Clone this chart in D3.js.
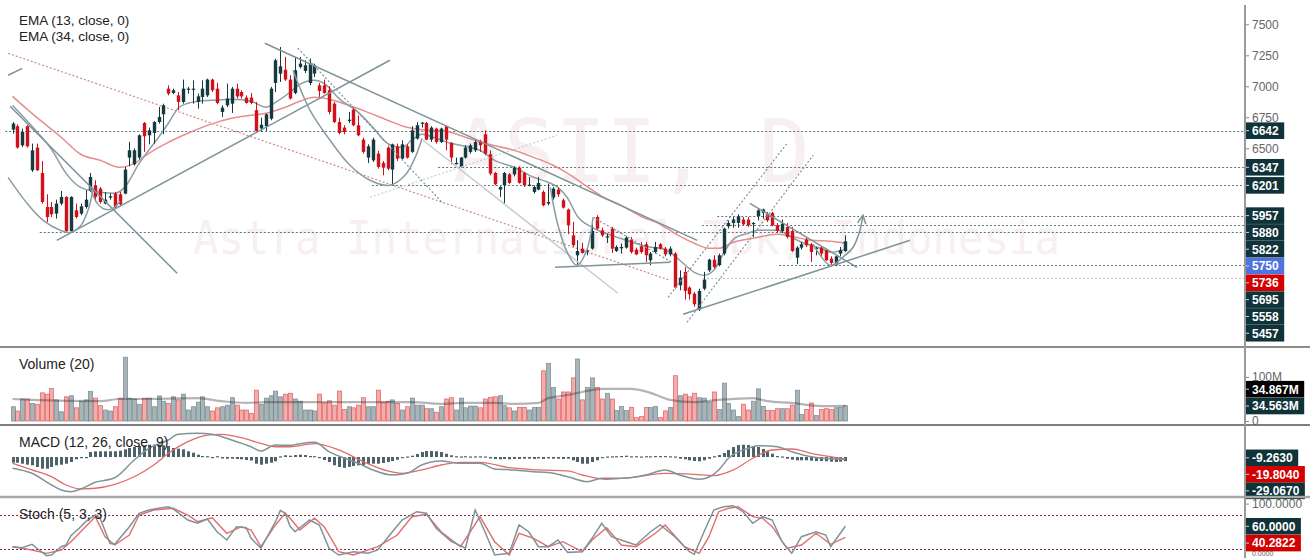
<!DOCTYPE html>
<html>
<head>
<meta charset="utf-8">
<script src="https://cdn.jsdelivr.net/npm/d3@7"></script>
<style>
    body { margin: 0; background: #fff; }
    svg { display: block; }
    text { font-family: "Liberation Sans", Arial, sans-serif; }
</style>
</head>
<body>
<svg id="chart" width="1310" height="558"></svg>
<script>
// ---- candles (daily OHLC) ----
const candleOpen = [
    6651,6678,6524,6678,6323,6506,6301,6027,6027,5973,
    6054,6108,5833,6000,5973,6027,6161,6202,6175,6054,
    6102,6135,6129,6135,6425,6371,6425,6704,6605,6624,
    6712,6774,6981,6946,6927,6874,6973,6973,6874,6914,
    6927,7054,6981,6793,6847,6860,6981,6954,6909,6909,
    6807,6660,6678,6739,7027,7102,7134,7054,6946,7156,
    7124,7027,7102,7008,7008,6968,6860,6712,6667,6720,
    6812,6686,6570,6425,6403,6457,6382,6506,6328,6516,
    6417,6516,6471,6578,6699,6704,6570,6659,6551,6678,
    6543,6371,6350,6425,6471,6484,6560,6613,6452,6301,
    6167,6202,6290,6290,6344,6301,6197,6148,6167,6148,
    6054,6102,6167,6081,6006,5798,5637,5691,5667,5691,
    5946,5839,5780,5852,5672,5694,5699,5764,5683,5710,
    5726,5597,5664,5726,5691,5645,5651,5395,5503,5377,
    5328,5199,5368,5516,5602,5557,5651,5871,5898,5898,
    5925,5925,5893,5952,5979,5968,5979,5879,5833,5866,
    5833,5618,5699,5764,5726,5689,5699,5678,5610,5557,
    5651,5672];
const candleHigh = [
    6712,6694,6659,6686,6538,6538,6398,6129,6067,6086,
    6156,6113,6113,6054,6054,6161,6301,6242,6188,6148,
    6135,6148,6148,6350,6551,6500,6613,6712,6667,6720,
    6833,6860,7008,6981,6954,7054,6995,7048,6941,7048,
    7062,7062,7027,6847,7022,6995,7022,6968,6927,6946,
    6874,6747,6780,6995,7223,7317,7237,7089,7237,7237,
    7210,7223,7183,7027,7054,7000,6874,6747,6686,6793,
    6828,6766,6586,6532,6586,6479,6398,6516,6538,6538,
    6565,6532,6678,6712,6712,6712,6678,6667,6667,6686,
    6551,6425,6430,6524,6538,6565,6570,6645,6484,6309,
    6194,6309,6301,6355,6355,6309,6269,6202,6269,6161,
    6215,6188,6183,6094,6014,5906,5758,5737,5691,5906,
    5960,5860,5812,5866,5718,5731,5790,5785,5699,5745,
    5745,5664,5745,5737,5704,5710,5664,5516,5543,5387,
    5342,5368,5503,5610,5637,5651,5860,5919,5946,5968,
    5946,5946,5906,6014,6014,5987,5987,5898,5925,5898,
    5866,5710,5745,5785,5737,5704,5710,5691,5629,5637,
    5704,5798];
const candleLow = [
    6618,6497,6511,6506,6309,6317,6054,5906,5946,5933,
    6040,5822,5822,5933,5960,6014,6148,6067,6054,6048,
    6086,6014,6040,6129,6355,6360,6409,6471,6532,6538,
    6699,6613,6927,6936,6807,6860,6941,6860,6820,6860,
    6914,6954,6855,6753,6833,6785,6901,6901,6860,6855,
    6632,6632,6640,6726,6954,7035,7043,6893,6936,7143,
    7108,7008,7075,6914,6941,6774,6704,6613,6613,6704,
    6678,6597,6457,6382,6390,6336,6282,6323,6201,6398,
    6409,6417,6462,6570,6667,6565,6551,6538,6543,6484,
    6371,6371,6344,6417,6457,6471,6471,6444,6282,6202,
    6108,6054,6210,6274,6215,6188,6194,6135,6161,6032,
    6040,6086,6108,6014,5807,5704,5558,5651,5637,5683,
    5844,5785,5737,5656,5664,5651,5691,5651,5637,5651,
    5583,5557,5651,5683,5629,5629,5368,5355,5280,5280,
    5221,5188,5355,5503,5530,5549,5637,5852,5860,5860,
    5879,5866,5785,5919,5933,5906,5871,5817,5817,5772,
    5664,5565,5683,5704,5583,5637,5629,5592,5557,5549,
    5629,5664];
const candleClose = [
    6699,6506,6632,6516,6484,6323,6067,5946,5968,6054,
    6108,5833,6108,5946,6032,6086,6269,6108,6067,6086,
    6113,6027,6048,6328,6484,6484,6605,6597,6645,6712,
    6753,6847,6941,6968,6874,6981,6981,6981,6919,6981,
    7054,6968,6866,6828,6901,6981,6919,6919,6866,6866,
    6640,6690,6774,6981,7210,7161,7054,6901,7129,7183,
    7169,7183,7169,6962,6946,6793,6712,6624,6632,6731,
    6686,6605,6471,6516,6570,6350,6344,6336,6532,6417,
    6532,6425,6645,6686,6707,6570,6667,6551,6659,6570,
    6425,6382,6425,6506,6524,6551,6524,6457,6296,6210,
    6188,6301,6221,6344,6221,6202,6207,6188,6221,6040,
    6067,6175,6129,6022,5879,5718,5672,5656,5678,5833,
    5852,5798,5790,5691,5704,5704,5780,5664,5645,5664,
    5637,5651,5704,5691,5645,5691,5377,5457,5350,5323,
    5242,5350,5441,5602,5543,5637,5852,5898,5925,5952,
    5887,5879,5898,6000,6006,5919,5879,5833,5893,5785,
    5672,5699,5726,5718,5664,5696,5651,5597,5575,5629,
    5678,5750];

// volume in millions
const volumes = [
    32.5,22.7,50,50,40,38,64,61,74,48,
    21,55,57.5,30,45,48,67,52,35,25,
    22.7,32.5,52,145,52,50,38,52,52,32.5,
    57,45,40,55,48,61,25,32.5,43,55,
    32.5,22.7,30,32.5,36,53,36,25,25,17.4,
    70,38,52,57.5,68,55,61,63,50,45,
    25,25,23,61,41,46,36,68,26,32.5,
    30,36,53,32.5,32.5,70,43,45,48,40,
    25,32.5,52,36,36,28,28,20,32.5,50,
    53,25,52,30,34,34,30,50,54,55,
    57.5,35,30,23,31,31,25,31,31,114,
    131,76,50,66,66,98,141,48,76,98,
    76,50,63,50,24,33,24,31,7.6,10,
    31,31,33,7.6,23,31,103,57.5,61,55,
    63,53,52,43,66,26,86,40,25,10,
    38,25,45,73,33,24,24,28,28,28,
    36,70,15,26,41,12.5,26,28,26,30,
    31,34.867];
const volMaIdx = [0,4,18,22,26,38,43,48,52,57,69,82,88,93,99,103,108,110,114,117,121,127,131,135,140,145,152,155,160,166,171];
const volMaVals = [50,48,45,50,50,52,45,41,43,43,43,43,39,41,41,39,41,52,59,66,73,73,64,48,43,48,52,45,41,34,34.563];

// EMA lines, sampled along the picture
const ema13Idx = [0,4,8,11,14,18,21,23,26,30,32,34,36,38,41,45,49,52,54,57,59,62,64,67,71,74,77,80,82,84,87,90,93,96,99,103,107,110,112,114,116,119,123,126,130,134,137,140,142,144,146,148,151,153,157,160,162,166,168,171];
const ema13Vals = [6847,6677,6492,6298,6185,6145,6137,6185,6379,6589,6702,6823,6863,6879,6887,6895,6879,6831,6871,6952,7016,7048,7024,6903,6790,6669,6540,6508,6565,6613,6581,6540,6516,6484,6403,6347,6266,6226,6185,6097,5952,5863,5798,5758,5710,5685,5597,5500,5476,5516,5653,5766,5814,5839,5839,5782,5742,5694,5661,5685];
const ema34Idx = [0,4,10,14,18,22,25,28,32,36,40,45,49,52,56,59,62,65,69,73,77,81,85,89,93,97,103,107,111,114,117,121,125,129,133,136,140,143,145,148,152,157,160,164,168,171];
const ema34Vals = [6919,6782,6589,6452,6403,6347,6379,6460,6548,6621,6685,6742,6766,6782,6831,6879,6911,6895,6847,6790,6726,6669,6645,6637,6589,6540,6484,6427,6363,6298,6218,6113,6040,5952,5887,5814,5734,5694,5694,5742,5774,5806,5790,5758,5750,5734];

// MACD (12, 26, close, 9)
const macdIdx = [0,4,8,10,12,14,17,21,25,28,32,34,38,41,45,49,51,54,57,59,62,65,71,74,78,81,84,88,92,96,99,103,107,111,114,118,121,125,130,134,137,141,145,147,151,153,157,160,164,171];
const macdVals = [-125,-181,-311,-366,-385,-355,-281,-230,-33,96,189,252,263,252,189,114,67,133,130,148,163,59,-70,-144,-200,-181,-89,-44,-70,-70,-133,-144,-163,-181,-219,-274,-236,-236,-200,-144,-200,-248,-144,-14,96,125,114,59,3,-29.067];
const signalIdx = [0,4,8,11,14,17,21,25,29,32,36,40,43,47,51,54,57,62,67,72,77,80,84,88,92,96,102,108,114,117,122,127,134,140,144,148,152,156,160,164,171];
const signalVals = [-70,-144,-219,-311,-355,-347,-303,-219,-89,41,170,244,252,214,152,114,114,148,78,-52,-155,-181,-144,-89,-59,-59,-119,-144,-155,-200,-248,-230,-181,-192,-208,-144,-14,78,89,41,-19.804];
const histVals = [
    -12.7,-12.7,-14.9,-17.1,-18.4,-22.2,-26,-26,-22.2,-18.4,-17.1,-14.9,-11.1,-5.1,-2.2,-1.1,
    11.1,12.7,12.7,12.7,12.7,12.7,14,17.1,20,22.2,24.4,26,27.3,27.3,27.3,26,24.4,20,18.4,17.1,12.7,9.5,5.1,2.2,0.7,-1.1,0.7,
    -3.3,-3.8,-3.8,-4.4,-5.1,-6.7,-7.8,-14.9,-17.1,-14.9,-12.7,-9.5,
    1.5,3.8,2.9,4.4,5.1,4.4,2.2,0.7,
    -2.2,-6.7,-11.1,-18.4,-22.2,-24,-22,-20,-18.4,-17.8,-15.5,-14.9,-14.9,-13.3,-11.1,-8.9,-6,-2.2,-0.7,
    2.9,6.7,11.1,13.3,13.3,12.7,11.1,7.3,3.8,0.7,
    -0.7,0.7,-0.7,0.4,0.4,-0.7,
    -3.3,-4.4,-5.1,-4.4,-5.1,-4.4,-4.4,-3.8,-3.8,-4.4,-3.3,-4.4,-3.3,-3.8,-3.8,-4.4,-3.8,
    -7.3,-11.1,-14.9,-14.9,-11.1,-7.3,-2.2,-0.7,
    1.6,0.7,2.2,2.9,1.6,0.7,1.1,0.7,1.6,2.2,2.2,2.2,1.6,
    -0.7,-3.8,-5.1,-7.3,-8.9,-9.5,-7.3,-3.8,0.7,
    4.4,8.9,15.5,22.2,26.6,27.3,26.6,24.4,22.2,17.8,12.7,7.3,2.2,
    -0.7,-3.8,-6,-7.3,-7.3,-7.3,-8.2,-8.9,-8.9,-9.5,-10.4,-11.1,-10.4,-9.263];

// Stoch (5, 3, 3)
const stochKIdx = [0,2,4,5,7,8,10,11,12,14,15,17,18,20,21,24,26,28,30,32,33,36,38,40,42,44,46,48,49,51,54,55,56,57,58,61,63,65,67,70,73,75,78,80,83,85,87,90,93,95,97,99,102,104,106,108,110,112,114,117,119,121,123,126,128,131,133,136,139,140,142,144,146,148,150,152,154,156,158,160,162,165,167,168,171];
const stochKVals = [24,22.2,28.2,21.2,8.1,9.3,24,27,43.4,59.3,68.1,79.9,74.1,30,28.2,59.3,82.9,88.7,91.7,94.5,90.5,71.1,65.3,72.8,50.4,35.8,59.3,57.5,38.8,21.2,68.1,88,82.9,60,50.4,71.1,62.3,21.2,9.3,15.2,12.3,18.2,50.4,71.1,85.7,82.9,56.4,34,21.2,88.7,50.4,9.3,12.3,62.3,50.4,24,24,35.8,14,15.2,38.8,65.3,41.6,32.8,27,50.4,62.3,41.6,15.2,10.6,50.4,88.7,94.5,96.3,85.7,65.3,76.9,71.1,32.8,12.3,41.6,50.4,44.6,24,60];
const stochDIdx = [0,4,7,10,12,15,17,19,21,24,26,29,33,36,38,41,44,47,49,51,54,56,57,59,62,64,67,70,75,79,82,85,88,92,96,99,102,104,107,110,113,117,119,122,125,128,132,134,138,141,143,145,147,149,152,154,156,159,162,165,168,171];
const stochDVals = [24,18.2,12.3,18.2,32.8,59.3,76.9,41.6,27,44.6,79.9,88.7,91.7,79.9,68.1,75.1,47.6,59.3,53.4,24,62.3,82.9,74,53.4,74.1,59.3,15.2,9.3,24,44.6,76.9,81.1,50.4,24,76.9,32.8,9.3,47.6,38.8,24,32.8,15.2,35.8,57.5,27,24,47.6,62.3,24,12.3,41.6,85.7,91.7,94.5,76.9,74.1,59.3,21.2,27,47.6,28.2,40.2822];

// axis ticks and price tags
const priceTicks = [7500, 7250, 7000, 6750, 6500, 6250, 6000, 5750, 5500, 5250, 5000];
const priceTags = [6642, 6347, 6201, 5957, 5880, 5822, 5750, 5736, 5695, 5558, 5457];
const priceTagKinds = ['dark','dark','dark','dark','dark','dark','blue','red','dark','dark','dark'];
const levelPrices = [6642, 6347, 6201, 5957, 5880, 5822, 5558, 5457];
const levelStartIdx = [-1.5, 87.4, 73.8, 144.7, 141.6, 5.6, 157.4, 141.8];
const volTicks = [100, 0];
const volTags = [34.867, 34.563];
const volTagKinds = ['black', 'dark'];
const macdTags = [-9.263, -19.804, -29.067];
const macdTagKinds = ['dark', 'red', 'dark'];
const stochTicks = [100, 0];
const stochTags = [60, 40.2822];
const stochTagKinds = ['dark', 'red'];

// drawings on the price pane: [idx1, price1, idx2, price2]
const trendLines = [
    [-0.9, 7089, 2, 7145],
    [-0.5, 6839, 33.8, 5492],
    [9.1, 5758, 77.5, 7210],
    [51.8, 7347, 140.6, 5758],
    [137.7, 5161, 184.3, 5758],
    [151.4, 6056, 173.4, 5540],
    [111.4, 5540, 135, 5581]
];
const lightLines = [[84.3, 6565, 124.3, 5331]];
const dottedLines = [
    [58.6, 7307, 88.4, 6056],
    [119.2, 5944, 135.4, 5581],
    [134.6, 5298, 159.2, 6548],
    [138.5, 5097, 164.4, 6444]
];
const lightDottedLines = [[73.4, 6105, 111.8, 6605]];
const redDottedLines = [[-0.9, 7266, 135, 5435]];
const arcs = [
    [[-0.9,6266],[3,6056],[6.3,5919],[9.8,5839],[11.8,5822],[13.9,5871],[15.5,6000],[16.5,6161]],
    [[15.9,6185],[17.4,6056],[19,6008],[20.6,6016],[22.1,6073]],
    [[57.6,7129],[61.1,6806],[65.2,6565],[69.3,6363],[73.4,6242],[77.5,6202],[80.6,6282],[82.6,6419],[84.1,6581]],
    [[110.4,6185],[112,5879],[113.9,5661],[115.9,5556],[117.9,5677],[119.2,5944]],
    [[164.4,5726],[167.9,5557],[170.5,5623]]
];
const arrowPath = [[170.5,5623],[172.6,5702],[174,5839],[174.6,5952]];

function drawChart() {
    const svg = d3.select('#chart');
    const axisX = 1245;
    const tagColor = { dark: '#0f3339', blue: '#4f73e0', red: '#d40000', black: '#000000' };
    const upColor = '#173a41';
    const downColor = '#d0101b';

    // scales
    const x = d3.scaleLinear().domain([0, 171]).range([12.5, 845.3]);
    const y = d3.scaleLinear().domain([6500, 7500]).range([148.3, 24.3]);
    const yVol = d3.scaleLinear().domain([0, 100]).range([421, 377]);
    const yMacd = d3.scaleLinear().domain([0, 100]).range([457, 448]);
    const yHist = d3.scaleLinear().domain([0, 10]).range([457, 452.5]);
    const yStoch = d3.scaleLinear().domain([0, 100]).range([560.3, 503.6]);

    const panes = { price: [0, 347], vol: [347, 425], macd: [425, 497], stoch: [497, 558] };
    const defs = svg.append('defs');
    Object.entries(panes).forEach(([k, [t, b]]) => {
        defs.append('clipPath').attr('id', 'clip-' + k)
            .append('rect').attr('x', 0).attr('y', t).attr('width', axisX).attr('height', b - t);
    });
    defs.append('marker')
        .attr('id', 'arrowHead')
        .attr('viewBox', '0 0 10 10')
        .attr('refX', 8).attr('refY', 5)
        .attr('markerWidth', 7).attr('markerHeight', 7)
        .attr('orient', 'auto')
        .append('path')
        .attr('d', 'M1,1 L9,5 L1,9')
        .attr('fill', 'none')
        .attr('stroke', '#7f9398')
        .attr('stroke-width', 1.5);

    // ---- price pane ----
    const gP = svg.append('g').attr('clip-path', 'url(#clip-price)');

    // watermark
    gP.append('text')
        .text('ASII, D')
        .attr('x', 453).attr('y', 182)
        .attr('textLength', 357).attr('lengthAdjust', 'spacingAndGlyphs')
        .style('font-family', '"DejaVu Sans Mono", monospace')
        .style('font-size', '88px')
        .attr('fill', '#f7eff2');
    gP.append('text')
        .text('Astra International Tbk, Indonesia')
        .attr('x', 193).attr('y', 254)
        .attr('textLength', 867).attr('lengthAdjust', 'spacingAndGlyphs')
        .style('font-family', '"DejaVu Sans Mono", monospace')
        .style('font-size', '46px')
        .attr('fill', '#f7eff2');

    // dotted price levels
    levelPrices.forEach((p, k) => {
        gP.append('line')
            .attr('x1', x(levelStartIdx[k])).attr('x2', axisX)
            .attr('y1', Math.round(y(p)) + 0.5).attr('y2', Math.round(y(p)) + 0.5)
            .attr('stroke', p === 5457 ? '#b9c3c6' : '#5d767c')
            .attr('stroke-width', 1)
            .attr('stroke-dasharray', '2,2');
    });

    const seg = (arr, color, width, dash) => {
        arr.forEach(d => {
            gP.append('line')
                .attr('x1', x(d[0])).attr('y1', y(d[1]))
                .attr('x2', x(d[2])).attr('y2', y(d[3]))
                .attr('stroke', color)
                .attr('stroke-width', width)
                .attr('stroke-dasharray', dash || null);
        });
    };
    seg(redDottedLines, '#c98b8b', 1.2, '2,2');

    // EMA lines
    const emaLine = d3.line().x(d => x(d[0])).y(d => y(d[1])).curve(d3.curveMonotoneX);
    gP.append('path')
        .attr('d', emaLine(ema34Idx.map((d, k) => [d, ema34Vals[k]])))
        .attr('fill', 'none').attr('stroke', '#e88d8d').attr('stroke-width', 1.5);
    gP.append('path')
        .attr('d', emaLine(ema13Idx.map((d, k) => [d, ema13Vals[k]])))
        .attr('fill', 'none').attr('stroke', '#8b9fa4').attr('stroke-width', 1.5);

    // candles
    const candles = gP.selectAll('.candle')
        .data(candleOpen.map((o, k) => ({ i: k, o: o, h: candleHigh[k], l: candleLow[k], c: candleClose[k] })))
        .enter().append('g').attr('class', 'candle');
    candles.append('line')
        .attr('x1', d => Math.round(x(d.i)) + 0.5).attr('x2', d => Math.round(x(d.i)) + 0.5)
        .attr('y1', d => y(d.h)).attr('y2', d => y(d.l))
        .attr('stroke', d => d.c >= d.o ? upColor : downColor)
        .attr('stroke-width', 1);
    candles.append('rect')
        .attr('x', d => Math.round(x(d.i)) - 1.2)
        .attr('width', 3.4)
        .attr('y', d => y(Math.max(d.o, d.c)))
        .attr('height', d => Math.max(1.2, Math.abs(y(d.o) - y(d.c))))
        .attr('fill', d => d.c >= d.o ? upColor : downColor);

    // drawings
    seg(lightLines, '#c3cdd0', 1.5);
    seg(lightDottedLines, '#c3cdd0', 1.2, '2,2');
    seg(dottedLines, '#7f9398', 1.2, '2,2');
    seg(trendLines, '#7f9398', 1.5);
    const arcLine = d3.line().x(d => x(d[0])).y(d => y(d[1])).curve(d3.curveCatmullRom);
    arcs.forEach(a => {
        gP.append('path').attr('d', arcLine(a))
            .attr('fill', 'none').attr('stroke', '#8a9ca1').attr('stroke-width', 1.5);
    });
    gP.append('path').attr('d', arcLine(arrowPath))
        .attr('fill', 'none').attr('stroke', '#7f9398').attr('stroke-width', 1.5)
        .attr('marker-end', 'url(#arrowHead)');

    // legend
    svg.append('text').text('EMA (13, close, 0)').attr('x', 19).attr('y', 25)
        .style('font-size', '13.5px').attr('fill', '#222');
    svg.append('text').text('EMA (34, close, 0)').attr('x', 19).attr('y', 41)
        .style('font-size', '13.5px').attr('fill', '#222');

    // ---- volume pane ----
    const gV = svg.append('g').attr('clip-path', 'url(#clip-vol)');
    gV.selectAll('.vbar')
        .data(volumes)
        .enter().append('rect')
        .attr('class', 'vbar')
        .attr('x', (d, k) => Math.round(x(k)) - 1.5)
        .attr('width', 4)
        .attr('y', d => yVol(d))
        .attr('height', d => yVol(0) - yVol(d))
        .attr('fill', (d, k) => candleClose[k] >= candleOpen[k] ? 'rgba(120,140,146,0.65)' : 'rgba(232,105,105,0.55)')
        .attr('stroke', (d, k) => candleClose[k] >= candleOpen[k] ? 'rgba(110,130,136,0.8)' : 'rgba(225,80,80,0.8)')
        .attr('stroke-width', 0.8);
    gV.append('path')
        .attr('d', d3.line().x(d => x(d[0])).y(d => yVol(d[1])).curve(d3.curveMonotoneX)(volMaIdx.map((d, k) => [d, volMaVals[k]])))
        .attr('fill', 'none').attr('stroke', 'rgba(40,40,40,0.35)').attr('stroke-width', 2.2);
    svg.append('text').text('Volume (20)').attr('x', 19).attr('y', 369)
        .style('font-size', '14px').attr('fill', '#222');

    // ---- MACD pane ----
    const gM = svg.append('g').attr('clip-path', 'url(#clip-macd)');
    gM.selectAll('.hbar')
        .data(histVals)
        .enter().append('rect')
        .attr('class', 'hbar')
        .attr('x', (d, k) => Math.round(x(k)) - 1)
        .attr('width', 3)
        .attr('y', d => Math.min(yHist(d), yHist(0)) - (Math.abs(d) < 1 ? 0.5 : 0))
        .attr('height', d => Math.max(1.2, Math.abs(yHist(d) - yHist(0))))
        .attr('fill', '#4d6369');
    const macdLine = d3.line().x(d => x(d[0])).y(d => yMacd(d[1])).curve(d3.curveMonotoneX);
    gM.append('path').attr('d', macdLine(signalIdx.map((d, k) => [d, signalVals[k]])))
        .attr('fill', 'none').attr('stroke', '#e36b6b').attr('stroke-width', 1.3);
    gM.append('path').attr('d', macdLine(macdIdx.map((d, k) => [d, macdVals[k]])))
        .attr('fill', 'none').attr('stroke', '#7f9399').attr('stroke-width', 1.5);
    svg.append('text').text('MACD (12, 26, close, 9)').attr('x', 19).attr('y', 447)
        .style('font-size', '14px').attr('fill', '#222');

    // ---- Stoch pane ----
    const gS = svg.append('g').attr('clip-path', 'url(#clip-stoch)');
    [80, 20].forEach(v => {
        gS.append('line')
            .attr('x1', 0).attr('x2', axisX)
            .attr('y1', Math.round(yStoch(v)) + 0.5).attr('y2', Math.round(yStoch(v)) + 0.5)
            .attr('stroke', '#7a2e4f').attr('stroke-width', 1).attr('stroke-dasharray', '2,2');
    });
    const stochLine = d3.line().x(d => x(d[0])).y(d => yStoch(d[1]));
    gS.append('path').attr('d', stochLine(stochDIdx.map((d, k) => [d, stochDVals[k]])))
        .attr('fill', 'none').attr('stroke', '#e36d6d').attr('stroke-width', 1.4);
    gS.append('path').attr('d', stochLine(stochKIdx.map((d, k) => [d, stochKVals[k]])))
        .attr('fill', 'none').attr('stroke', '#7f9399').attr('stroke-width', 1.5);
    svg.append('text').text('Stoch (5, 3, 3)').attr('x', 19).attr('y', 519)
        .style('font-size', '14px').attr('fill', '#222');

    // ---- right axis ----
    // stack tags so they do not overlap (push down, clamp at maxY)
    function stack(ys, h, maxY) {
        const out = [];
        let prev = -Infinity;
        ys.forEach(v => { const p = Math.max(v, prev + h); out.push(p); prev = p; });
        if (maxY !== undefined && out[out.length - 1] > maxY) {
            out[out.length - 1] = maxY;
            for (let k = out.length - 2; k >= 0; k--) out[k] = Math.min(out[k], out[k + 1] - h);
        }
        return out;
    }
    const priceTagY = stack(priceTags.map(p => y(p)), 16.8);
    const volTagY = stack(volTags.map(v => yVol(v)), 16.8, 406);
    const macdTagY = stack(macdTags.map(v => yMacd(v)), 16.5);
    const stochTagY = stack(stochTags.map(v => yStoch(v)), 16.8);

    const axisG = svg.append('g');
    const styleAxis = g => {
        g.select('.domain').remove();
        g.selectAll('.tick line').attr('stroke', '#888');
        g.selectAll('.tick text').style('font-size', '12px').attr('fill', '#666')
            .style('font-family', '"Liberation Sans", Arial, sans-serif');
    };
    const visibleTicks = priceTicks.filter(t => priceTagY.every(ty => Math.abs(ty - y(t)) > 12));
    axisG.append('g').attr('transform', `translate(${axisX},0)`)
        .call(d3.axisRight(y).tickValues(visibleTicks).tickSize(4).tickFormat(d3.format('d')))
        .call(styleAxis);
    axisG.append('g').attr('transform', `translate(${axisX},0)`)
        .call(d3.axisRight(yVol).tickValues(volTicks).tickSize(4).tickFormat(d => d ? d + 'M' : '0'))
        .call(styleAxis);
    axisG.append('g').attr('transform', `translate(${axisX},0)`)
        .call(d3.axisRight(yStoch).tickValues(stochTicks).tickSize(4).tickFormat(d3.format('.4f')))
        .call(styleAxis)
        // the 0 label sits on the bottom edge: shrink it so it fits under the tags
        .selectAll('.tick text').filter(d => d === 0)
        .attr('y', -5).attr('dy', 0).style('font-size', '7px');

    function tags(values, ys, kinds, fmt) {
        values.forEach((v, k) => {
            const g = axisG.append('g');
            const rect = g.append('rect');
            const txt = g.append('text')
                .attr('x', axisX + 7).attr('y', ys[k]).attr('dy', '0.36em')
                .text(fmt(v))
                .style('font-size', '12px').style('font-weight', 'bold')
                .attr('fill', '#fff');
            const w = txt.node().getComputedTextLength();
            rect.attr('x', axisX + 0.5).attr('y', ys[k] - 8.3)
                .attr('width', w + 12).attr('height', 16.6)
                .attr('fill', tagColor[kinds[k]]);
            g.append('line').attr('x1', axisX).attr('x2', axisX + 4)
                .attr('y1', ys[k]).attr('y2', ys[k]).attr('stroke', '#cfd6d8');
        });
    }
    tags(priceTags, priceTagY, priceTagKinds, d3.format('d'));
    tags(volTags, volTagY, volTagKinds, v => v.toFixed(3) + 'M');
    tags(macdTags, macdTagY, macdTagKinds, v => v.toFixed(4));
    tags(stochTags, stochTagY, stochTagKinds, v => v.toFixed(4));

    // pane separators and axis line
    [[347, '#666', 1.5], [425, '#555', 1.5], [497, '#a8a8a8', 2.5]].forEach(s => {
        svg.append('line').attr('x1', 0).attr('x2', 1310)
            .attr('y1', s[0]).attr('y2', s[0])
            .attr('stroke', s[1]).attr('stroke-width', s[2]);
    });
    svg.append('line').attr('x1', axisX).attr('x2', axisX)
        .attr('y1', 5).attr('y2', 558)
        .attr('stroke', '#9a9a9a').attr('stroke-width', 2);
}

window.addEventListener('load', drawChart);
</script>
</body>
</html>
